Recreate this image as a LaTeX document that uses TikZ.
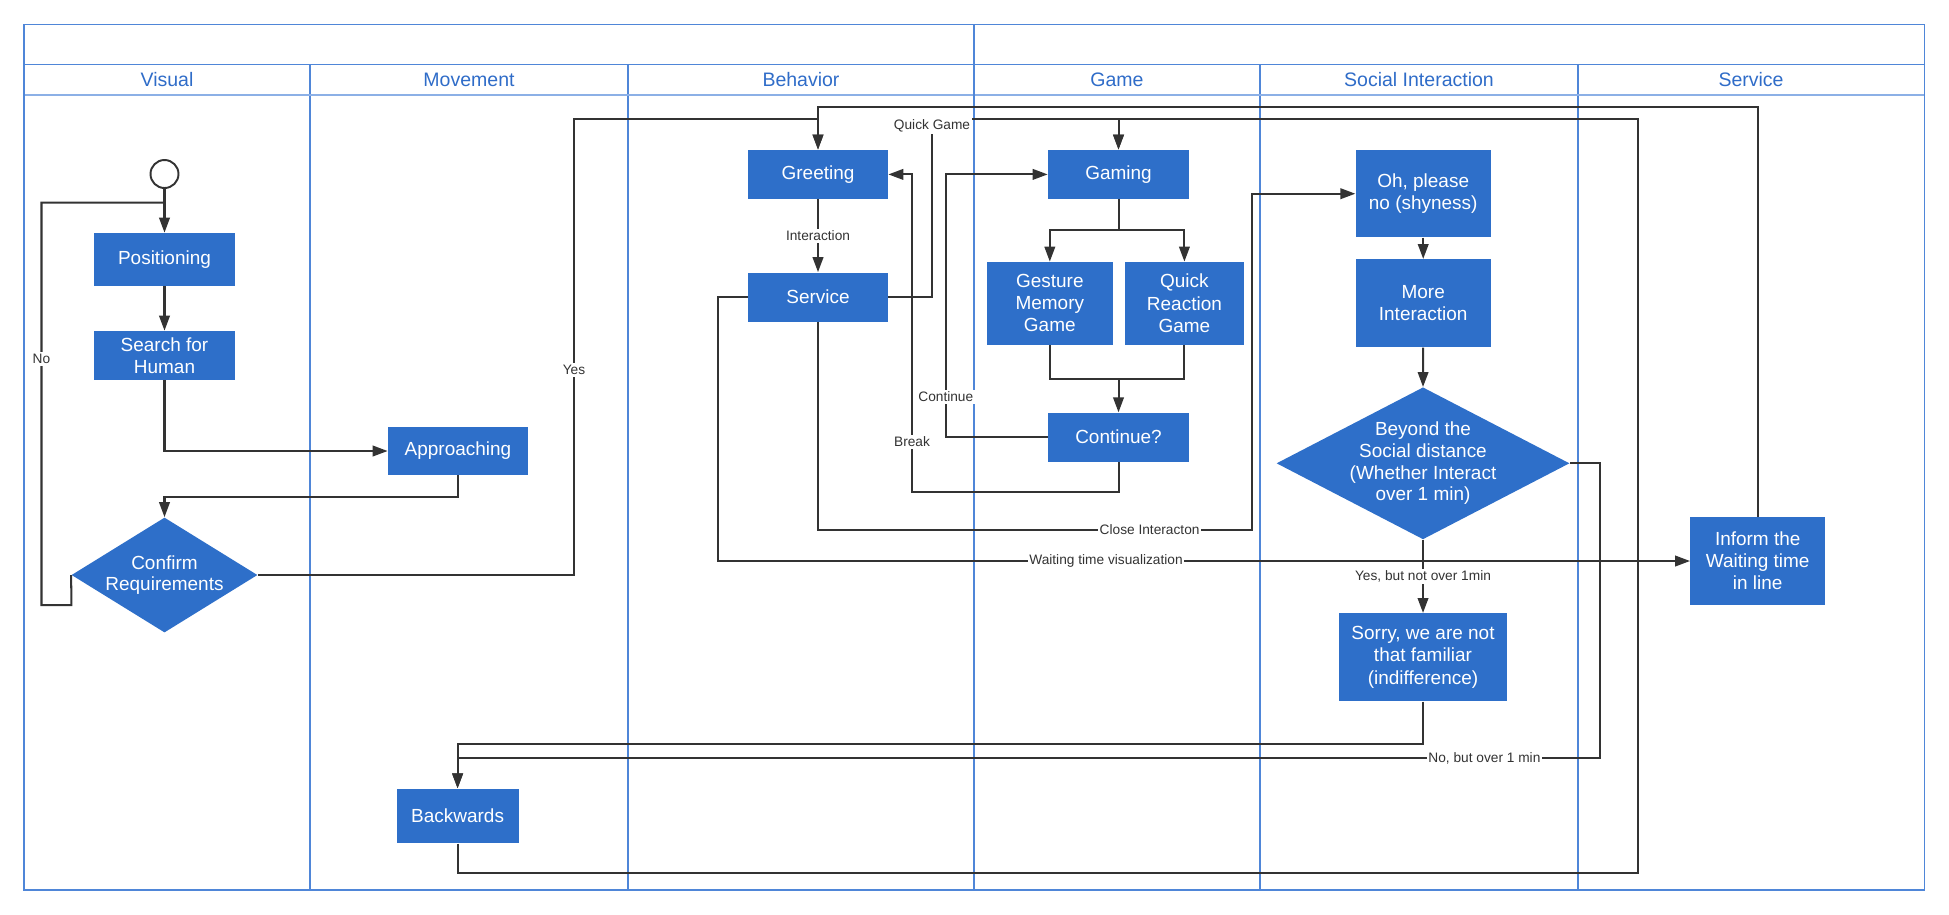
\documentclass[tikz,border=0pt]{standalone}
\usepackage{fontspec}
\setmainfont{Liberation Sans}
\usetikzlibrary{arrows.meta,shapes.geometric}
\definecolor{boxblue}{HTML}{2E6FC9}
\definecolor{lanecol}{HTML}{4F86D8}
\definecolor{headcol}{HTML}{8CB0E6}
\definecolor{titlecol}{HTML}{2F6CC8}
\definecolor{linecol}{HTML}{333333}
\begin{document}
\begin{tikzpicture}[x=0.02cm,y=-0.02cm,
  box/.style 2 args={rectangle,fill=boxblue,text=white,align=center,inner sep=0pt,
    minimum width=#1*0.02cm,minimum height=#2*0.02cm,font=\fontsize{10.8}{12.6}\selectfont},
  dia/.style 2 args={diamond,fill=boxblue,inner sep=0pt,
    minimum width=#1*0.02cm,minimum height=#2*0.02cm},
  diatext/.style={text=white,align=center,font=\fontsize{10.8}{12.4}\selectfont},
  startnode/.style={circle,draw=linecol,line width=1.1pt,fill=white,minimum size=0.56cm,inner sep=0pt},
  conn/.style={draw=linecol,line width=1.15pt,-{Triangle[length=8.5pt,width=6pt]}},
  plain/.style={draw=linecol,line width=1.15pt},
  lbl/.style={fill=white,text=linecol,inner sep=1pt,font=\fontsize{7.8}{9}\selectfont},
  lanetitle/.style={text=titlecol,font=\fontsize{11.1}{13}\selectfont},
  frameline/.style={draw=lanecol,line width=0.85pt},
  laneline/.style={draw=lanecol,line width=0.6pt},
  headline/.style={draw=headcol,line width=1.2pt}
]
\useasboundingbox (0,0) rectangle (1949,914);
% swimlane frame
\draw[laneline] (310,64.3) -- (310,890);
\draw[laneline] (628,64.3) -- (628,890);
\draw[laneline] (1260,64.3) -- (1260,890);
\draw[laneline] (1578,64.3) -- (1578,890);
\draw[headline] (24.2,95) -- (1924.5,95);
\draw[frameline] (24.2,64.3) -- (1924.5,64.3);
\draw[frameline,line width=1pt] (974,24.3) -- (974,890);
\draw[frameline] (24.2,24.3) rectangle (1924.5,890);
\node[lanetitle] (tvis) at (167,79.6) {Visual};
\node[lanetitle] (tmov) at (469,79.6) {Movement};
\node[lanetitle] (tbeh) at (801,79.6) {Behavior};
\node[lanetitle] (tgam) at (1117,79.6) {Game};
\node[lanetitle] (tsoc) at (1419,79.6) {Social Interaction};
\node[lanetitle] (tser) at (1751,79.6) {Service};

% nodes
\node[startnode] (start) at (164.5,174) {};
\node[box={141}{53}] (pos) at (164.5,259.5) {Positioning};
\node[box={141}{49}] (search) at (164.5,355.5) {Search for\\Human};
\node[box={140}{48}] (appr) at (458,451) {Approaching};
\node[dia={186}{115}] (confirm) at (164.5,575) {};
\node[diatext] (confirmt) at (confirm.center) {Confirm\\Requirements};
\node[box={140}{49}] (greet) at (818,174.4) {Greeting};
\node[box={140}{49}] (serv) at (818,297) {Service};
\node[box={141}{49}] (gaming) at (1118.5,174.4) {Gaming};
\node[box={125.6}{82.7}] (gesture) at (1049.8,303.3) {Gesture\\Memory\\Game};
\node[box={119.3}{82.7}] (quick) at (1184.4,303.3) {Quick\\Reaction\\Game};
\node[box={141}{49}] (cont) at (1118.5,437.2) {Continue?};
\node[box={135}{87.3}] (oh) at (1423.2,193.7) {Oh, please\\no (shyness)};
\node[box={135}{88}] (more) at (1423.2,303.3) {More\\Interaction};
\node[dia={293}{152}] (beyond) at (1423,463.3) {};
\node[diatext] (beyondt) at (beyond.center) {Beyond the\\Social distance\\(Whether Interact\\over 1 min)};
\node[box={168}{88}] (sorry) at (1423,657.3) {Sorry, we are not\\that familiar\\(indifference)};
\node[box={122}{54.6}] (back) at (457.6,816) {Backwards};
\node[box={134.6}{87.7}] (inform) at (1757.7,561) {Inform the\\Waiting time\\in line};

% connectors
\draw[conn] (start.south) -- (pos.north);
\draw[conn] (pos.south) -- (search.north);
\draw[conn] (search.south) |- (appr.west);
\draw[conn] (appr.south) -- (458,496.7) -| (confirm.north);
\draw[plain] (confirm.west) -- (71.4,605) -- (41.5,605) -- (41.5,202.7) -- (164.5,202.7)
  node[lbl] at (41.5,359) {No};
\draw[conn] (confirm.east) -- (574,575) -- (574,119.3) -| (greet.north)
  node[lbl] at (574,370) {Yes};
\draw[conn] (inform.north) |- (818,106.7) -- (greet.north);
\draw[conn] (greet.south) -- node[lbl] {Interaction} (serv.north);
\draw[conn] (serv.east) -- (932,297) -- (932,119.3) -| (gaming.north)
  node[lbl] at (932,125.7) {Quick Game};
\draw[conn] (serv.west) -- (718,297) |- (inform.west)
  node[lbl] at (1106,561) {Waiting time visualization};
\draw[conn] (serv.south) -- (818,530) -- (1251.7,530) |- (oh.west)
  node[lbl] at (1149.6,530) {Close Interacton};
\draw[conn] (cont.south) -- (1118.5,491.7) -- (912,491.7) |- (greet.east)
  node[lbl] at (912,441.7) {Break};
\draw[conn] (cont.west) -- (945.8,437.2) |- (gaming.west)
  node[lbl] at (945.8,396.7) {Continue};
\draw[conn] (gaming.south) -- (1118.5,230) -| (gesture.north);
\draw[conn] (gaming.south) -- (1118.5,230) -| (quick.north);
\draw[plain] (gesture.south) |- (1118.5,378.7);
\draw[conn] (quick.south) |- (1118.5,378.7) -- (cont.north);
\draw[conn] (oh.south) -- (more.north);
\draw[conn] (more.south) -- (beyond.north);
\draw[conn] (beyond.south) -- node[lbl,pos=0.5] {Yes, but not over 1min} (sorry.north);
\draw[conn] (sorry.south) -- (1423,744.3) -| (back.north);
\draw[conn] (beyond.east) -- (1600,463.3) -- (1600,758.3) -| (back.north)
  node[lbl] at (1484.4,758.3) {No, but over 1 min};
\draw[conn] (back.south) -- (457.6,873.3) -- (1637.5,873.3) -- (1637.5,119.3) -| (gaming.north);
\end{tikzpicture}
\end{document}
